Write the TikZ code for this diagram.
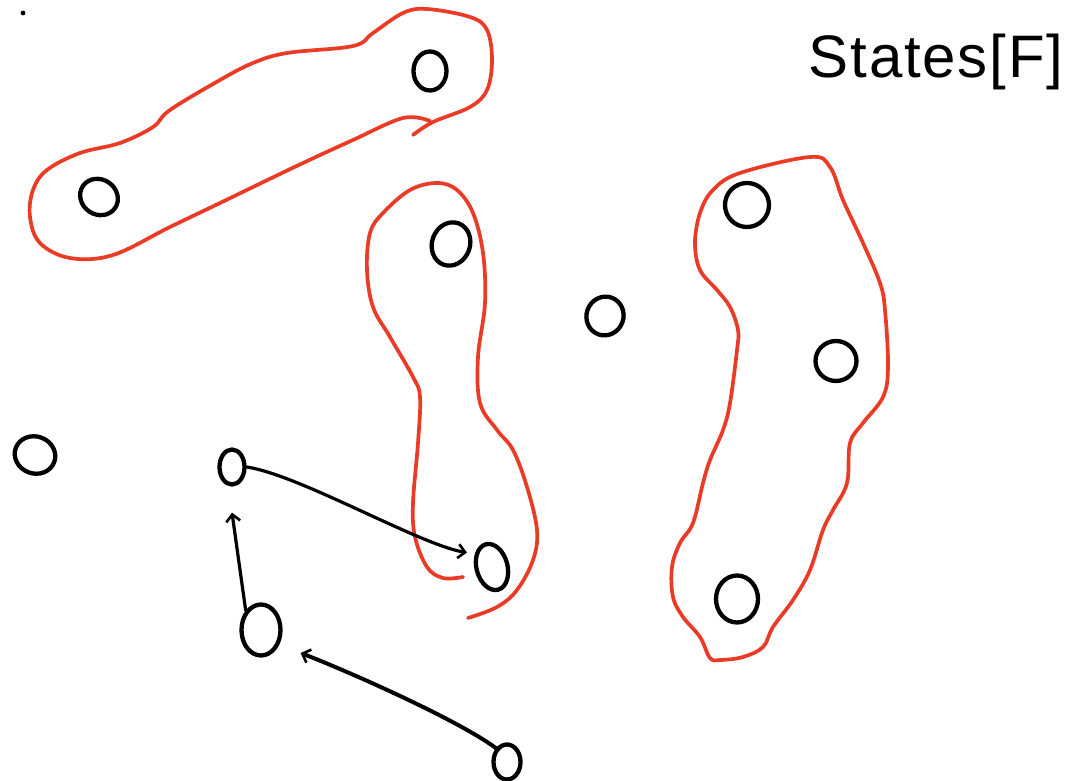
\documentclass[tikz,border=0pt]{standalone}
\usepackage{fontspec}
\newfontfamily\handfont[LetterSpace=3]{Liberation Sans}
\usetikzlibrary{shapes.geometric,arrows.meta}
\definecolor{penred}{RGB}{234,59,38}
\tikzset{
  st/.style={ellipse, draw=black, line width=4.3pt, inner sep=0pt},
  blob/.style={draw=penred, line width=3.7pt, line cap=round, line join=round},
  conn/.style={draw=black, line width=3.2pt, line cap=round, -{Straight Barb[length=7pt,width=14pt,line width=2.6pt]}}
}
\begin{document}
\begin{tikzpicture}[x=1pt,y=-1pt]
\useasboundingbox[fill=white] (0,0) rectangle (1080,781);

% red groupings
\draw[blob] plot[smooth, tension=0.6] coordinates {
 (413,135) (433,122) (470,107) (487,90) (492,60) (487,30) (470,17) (427,9) (403,13)
 (373,33) (353,46) (287,53) (253,63) (220,80) (170,110) (153,127) (120,143) (80,153)
 (47,170) (33,190) (30,217) (40,243) (70,258) (113,255) (170,227) (220,203) (253,187)
 (303,163) (353,140) (403,118) (430,121)};
\draw[blob] plot[smooth, tension=0.6] coordinates {
 (463,577) (443,578) (427,567) (415,537) (413,503) (418,443) (420,397) (413,377)
 (390,337) (373,307) (367,270) (370,233) (383,213) (410,190) (437,183) (457,190)
 (473,213) (483,253) (485,303) (478,357) (480,403) (497,430) (513,450) (527,487)
 (537,530) (533,560) (517,590) (497,607) (468,618)};
\draw[blob] plot[smooth cycle, tension=0.6] coordinates {
 (720,660) (710,658) (700,637) (683,617) (673,597) (672,567) (680,543) (693,523)
 (703,483) (710,460) (723,430) (730,403) (737,350) (738,330) (730,307) (717,290)
 (700,270) (695,243) (700,213) (713,190) (740,173) (810,157) (830,167) (843,200)
 (863,243) (880,283) (885,310) (888,367) (883,397) (863,423) (850,443) (847,483)
 (833,510) (823,530) (810,570) (793,600) (773,627) (763,647) (743,657)};

% states
\node[st, minimum width=33pt, minimum height=39pt] (n1) at (430,71) {};
\node[st, minimum width=39pt, minimum height=35pt, rotate=-35] (n2) at (99,197) {};
\node[st, minimum width=38pt, minimum height=44pt, rotate=-20] (n3) at (451,244) {};
\node[st, minimum width=37pt, minimum height=39pt, rotate=-20] (n4) at (605,316) {};
\node[st, minimum width=44pt, minimum height=44pt] (n5) at (747,205) {};
\node[st, minimum width=41pt, minimum height=40pt] (n6) at (836,361) {};
\node[st, minimum width=42pt, minimum height=47pt] (n7) at (737,599) {};
\node[st, minimum width=41pt, minimum height=37pt, rotate=-20] (n8) at (35,455) {};
\node[st, minimum width=25pt, minimum height=35pt] (n9) at (232,467) {};
\node[st, minimum width=31pt, minimum height=47pt, rotate=15] (n10) at (492,567) {};
\node[st, minimum width=39pt, minimum height=51pt] (n11) at (261,630) {};
\node[st, minimum width=27pt, minimum height=35pt] (n12) at (507,762) {};

% transitions
\draw[conn] (n9.east) .. controls (300,475) and (420,545) .. ([shift={(-8,-19)}]n10.west);
\draw[conn] (n11.north west) -- ([shift={(0,26)}]n9.south);
\draw[conn, line width=4pt] (n12.north west) .. controls (455,718) and (340,668) .. ([shift={(18,23)}]n11.east);

% stray dot
\fill (23,13) circle (2.4);

% label
\node[anchor=base, inner sep=0pt, font=\handfont\fontsize{60}{70}\selectfont] (title) at (936,78) {States[F]};
\end{tikzpicture}
\end{document}
